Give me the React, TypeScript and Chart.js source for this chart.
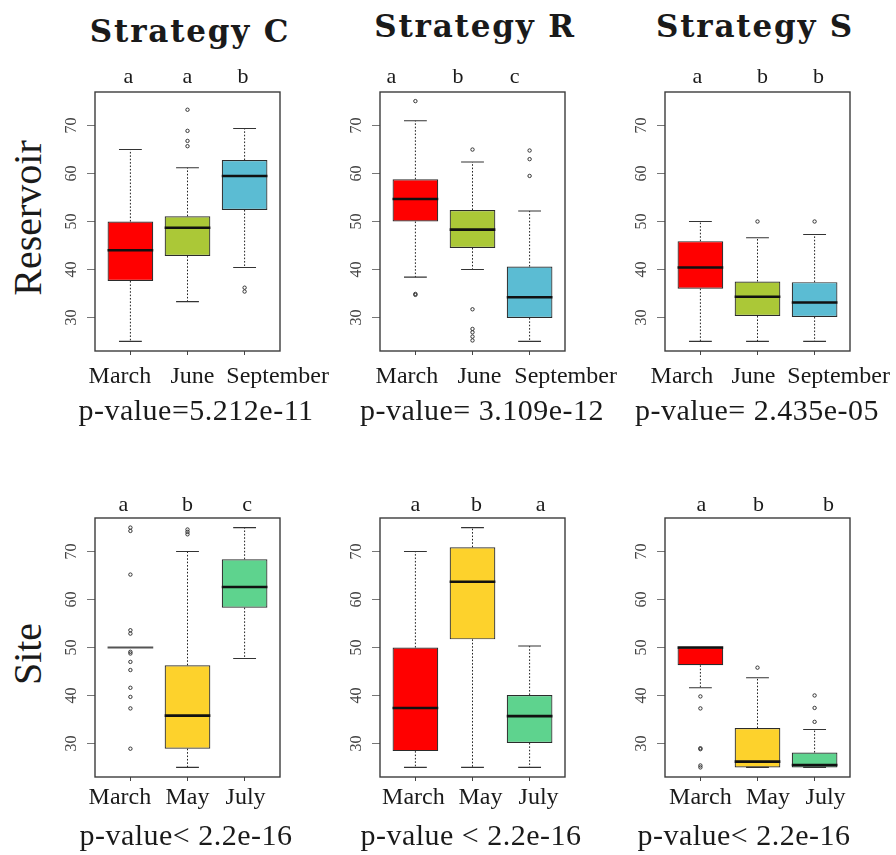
import React, { useEffect, useRef } from "react";
import { Chart, registerables } from "chart.js";

Chart.register(...registerables);

// ---------- data ----------
const reservoirMonths = ["March", "June", "September"];
const siteMonths = ["March", "May", "July"];
const reservoirColors = ["#FF0000", "#ABC837", "#5BBCD3"];
const siteColors = ["#FF0000", "#FDD22C", "#5ED38E"];
const yTicks = [30, 40, 50, 60, 70];
const xPositions = [1, 2, 3];

// five-number summaries: [lower whisker, Q1, median, Q3, upper whisker]
const resC_stats = [[25, 37.6, 44, 50, 65], [33.3, 42.8, 48.7, 51.1, 61.2], [40.4, 52.4, 59.5, 62.8, 69.4]];
const resC_out = [[], [73.3, 68.9, 66.8, 65.7], [36.2, 35.4]];
const resC_letters = ["a", "a", "b"];

const resR_stats = [[38.4, 50, 54.7, 58.8, 71], [40, 44.5, 48.3, 52.4, 62.4], [25, 29.9, 34.2, 40.6, 52.2]];
const resR_out = [[75.1, 34.9, 34.7], [65, 31.7, 27.6, 26.9, 26.0, 25.2], [64.8, 63, 59.5]];
const resR_letters = ["a", "b", "c"];

const resS_stats = [[25, 36, 40.4, 45.9, 50], [25, 30.3, 34.3, 37.5, 46.6], [25, 30.1, 33.1, 37.35, 47.3]];
const resS_out = [[], [50], [50]];
const resS_letters = ["a", "b", "b"];

const siteC_stats = [[50, 50, 50, 50, 50], [25, 28.9, 35.8, 46.3, 70], [47.7, 58.3, 62.6, 68.4, 75]];
const siteC_out = [[75, 74.3, 65.2, 53.6, 52.9, 49.1, 48.75, 47.0, 45.3, 41.6, 39.7, 37.3, 28.9], [74.6, 74.1, 73.6], []];
const siteC_letters = ["a", "b", "c"];

const siteR_stats = [[25, 28.4, 37.4, 50, 70], [25, 51.7, 63.7, 70.9, 75], [25, 30.1, 35.7, 40.1, 50.3]];
const siteR_out = [[], [], []];
const siteR_letters = ["a", "b", "a"];

const siteS_stats = [[41.6, 46.3, 50, 50, 50], [25, 25, 26.2, 33.2, 43.7], [25, 25, 25.5, 28.1, 32.9]];
const siteS_out = [[39.8, 37.3, 29.0, 28.8, 25.4, 25], [45.8], [40, 37.4, 34.5]];
const siteS_letters = ["a", "b", "b"];

const strategyTitles = ["Strategy C", "Strategy R", "Strategy S"];
const rowTitles = ["Reservoir", "Site"];
const reservoirPvalues = ["p-value=5.212e-11", "p-value= 3.109e-12", "p-value= 2.435e-05"];
const sitePvalues = ["p-value< 2.2e-16", "p-value < 2.2e-16", "p-value< 2.2e-16"];

// ---------- layout ----------
const PLOT_W = 185;
const PLOT_H = 259;
const AXIS_W = 50;
const TOP_PAD = 45;
const RIGHT_PAD = 60;
const X_AXIS_H = 46;
const CANVAS_W = AXIS_W + PLOT_W + RIGHT_PAD;
const CANVAS_H = TOP_PAD + PLOT_H + X_AXIS_H;
const SERIF = '"Liberation Serif", "Times New Roman", serif';

type PanelProps = {
  plotLeft: number;
  plotTop: number;
  months: string[];
  colors: string[];
  stats: number[][];
  outs: number[][];
  letters: string[];
  letterDx: number[];
  labelDx: number[];
  letterRise: number;
  labelDrop: number;
};

function Panel(p: PanelProps) {
  const ref = useRef<HTMLCanvasElement | null>(null);
  useEffect(() => {
    const canvas = ref.current;
    if (!canvas) return;

    const extras = {
      id: "boxExtras",
      afterDatasetsDraw(chart: any) {
        const ctx = chart.ctx;
        const xs = chart.scales.x;
        const ys = chart.scales.y;
        const half = xs.getPixelForValue(1.4) - xs.getPixelForValue(1);
        ctx.save();
        p.stats.forEach((s, i) => {
          const cx = xs.getPixelForValue(xPositions[i]);
          const [lo, q1, med, q3, hi] = s;
          const yLo = ys.getPixelForValue(lo);
          const yQ1 = ys.getPixelForValue(q1);
          const yMed = ys.getPixelForValue(med);
          const yQ3 = ys.getPixelForValue(q3);
          const yHi = ys.getPixelForValue(hi);
          const collapsed = lo === hi;
          // dotted whiskers
          ctx.strokeStyle = "#222";
          ctx.lineWidth = 1;
          ctx.setLineDash([1.6, 1.8]);
          ctx.beginPath();
          if (hi > q3) {
            ctx.moveTo(cx, yQ3);
            ctx.lineTo(cx, yHi);
          }
          if (lo < q1) {
            ctx.moveTo(cx, yQ1);
            ctx.lineTo(cx, yLo);
          }
          ctx.stroke();
          ctx.setLineDash([]);
          // staples
          if (!collapsed) {
            ctx.strokeStyle = "#333";
            ctx.lineWidth = 1.1;
            ctx.beginPath();
            ctx.moveTo(cx - half / 2, yHi);
            ctx.lineTo(cx + half / 2, yHi);
            ctx.moveTo(cx - half / 2, yLo);
            ctx.lineTo(cx + half / 2, yLo);
            ctx.stroke();
          }
          // median
          ctx.strokeStyle = collapsed ? "#555" : "#111";
          ctx.lineWidth = collapsed ? 2 : 2.6;
          ctx.beginPath();
          ctx.moveTo(cx - half, yMed);
          ctx.lineTo(cx + half, yMed);
          ctx.stroke();
        });
        ctx.restore();
      },
      afterDraw(chart: any) {
        const ctx = chart.ctx;
        const ca = chart.chartArea;
        const xs = chart.scales.x;
        ctx.save();
        ctx.strokeStyle = "#3c3c3c";
        ctx.lineWidth = 1.4;
        ctx.strokeRect(ca.left, ca.top, ca.right - ca.left, ca.bottom - ca.top);
        ctx.fillStyle = "#1a1a1a";
        ctx.textAlign = "center";
        ctx.textBaseline = "alphabetic";
        ctx.font = `22px ${SERIF}`;
        p.letters.forEach((l, i) => {
          ctx.fillText(l, xs.getPixelForValue(xPositions[i]) + p.letterDx[i], ca.top - p.letterRise);
        });
        ctx.font = `24px ${SERIF}`;
        p.months.forEach((m, i) => {
          ctx.fillText(m, xs.getPixelForValue(xPositions[i]) + p.labelDx[i], ca.bottom + p.labelDrop);
        });
        ctx.restore();
      },
    };

    const outlierPoints: { x: number; y: number }[] = [];
    p.outs.forEach((arr, i) => arr.forEach((v) => outlierPoints.push({ x: xPositions[i], y: v })));

    const chart = new Chart(canvas, {
      type: "bar",
      data: {
        datasets: [
          {
            type: "bar",
            data: p.stats.map((s, i) => ({ x: xPositions[i], y: [s[1], s[3]] })) as any,
            backgroundColor: p.colors,
            borderColor: "#2b2b2b",
            borderWidth: 1.2,
            borderSkipped: false,
            barPercentage: 0.8,
            categoryPercentage: 1,
          } as any,
          {
            type: "scatter",
            data: outlierPoints,
            pointRadius: 1.7,
            pointBorderWidth: 1,
            pointBorderColor: "#333",
            pointBackgroundColor: "rgba(0,0,0,0)",
          } as any,
        ],
      },
      options: {
        responsive: false,
        maintainAspectRatio: false,
        animation: false,
        devicePixelRatio: 1,
        events: [],
        layout: { autoPadding: false, padding: { top: TOP_PAD, right: RIGHT_PAD, left: 0, bottom: 0 } },
        plugins: { legend: { display: false }, tooltip: { enabled: false }, title: { display: false } },
        scales: {
          x: {
            type: "linear",
            min: 0.38,
            max: 3.62,
            offset: false,
            afterBuildTicks: (s: any) => {
              s.ticks = xPositions.map((v) => ({ value: v }));
            },
            afterFit: (s: any) => {
              s.height = X_AXIS_H;
            },
            grid: { drawOnChartArea: false, drawTicks: true, tickLength: 4, color: "#444", offset: false },
            border: { display: false },
            ticks: { display: false },
          },
          y: {
            type: "linear",
            min: 23,
            max: 77,
            beginAtZero: false,
            afterBuildTicks: (s: any) => {
              s.ticks = yTicks.map((v) => ({ value: v }));
            },
            afterFit: (s: any) => {
              s.width = AXIS_W;
            },
            grid: { drawOnChartArea: false, drawTicks: true, tickLength: 8, color: "#777" },
            border: { display: false },
            ticks: {
              minRotation: 90,
              maxRotation: 90,
              crossAlign: "center",
              padding: 7,
              color: "#444",
              font: { family: SERIF, size: 16 },
            },
          },
        },
      } as any,
      plugins: [extras],
    });
    return () => chart.destroy();
  }, []);

  return (
    <canvas
      ref={ref}
      width={CANVAS_W}
      height={CANVAS_H}
      style={{ position: "absolute", left: p.plotLeft - AXIS_W, top: p.plotTop - TOP_PAD, width: CANVAS_W, height: CANVAS_H }}
    />
  );
}

function Text(props: { x: number; baseline: number; size: number; bold?: boolean; family?: string; spacing?: number; children: string }) {
  const fam = props.family || SERIF;
  const asc = props.family ? 0.846 : 0.8375;
  return (
    <div
      style={{
        position: "absolute",
        left: props.x,
        top: props.baseline - asc * props.size,
        transform: "translateX(-50%)",
        fontFamily: fam,
        fontSize: props.size,
        fontWeight: props.bold ? 700 : 400,
        letterSpacing: props.spacing || 0,
        lineHeight: 1,
        whiteSpace: "nowrap",
        color: "#1a1a1a",
      }}
    >
      {props.children}
    </div>
  );
}

function RowLabel(props: { x: number; y: number; children: string }) {
  return (
    <div
      style={{
        position: "absolute",
        left: props.x,
        top: props.y,
        transform: "translate(-50%, -50%) rotate(-90deg)",
        fontFamily: SERIF,
        fontSize: 40,
        lineHeight: 1,
        whiteSpace: "nowrap",
        color: "#1a1a1a",
      }}
    >
      {props.children}
    </div>
  );
}

const colLefts = [95, 380, 665];
const rowTops = [92, 518];
const TITLE_FONT = '"DejaVu Serif", serif';

export default function App() {
  return (
    <div style={{ position: "absolute", left: 0, top: 0, width: 896, height: 855, overflow: "hidden", background: "#fff" }}>
      <Text x={190} baseline={42} size={31} bold family={TITLE_FONT} spacing={1.8}>{strategyTitles[0]}</Text>
      <Text x={475} baseline={37} size={31} bold family={TITLE_FONT} spacing={1.8}>{strategyTitles[1]}</Text>
      <Text x={755} baseline={37} size={31} bold family={TITLE_FONT} spacing={1.8}>{strategyTitles[2]}</Text>

      <RowLabel x={28} y={218}>{rowTitles[0]}</RowLabel>
      <RowLabel x={28} y={654}>{rowTitles[1]}</RowLabel>

      <Panel plotLeft={colLefts[0]} plotTop={rowTops[0]} months={reservoirMonths} colors={reservoirColors} stats={resC_stats} outs={resC_out} letters={resC_letters} letterDx={[-2, 0, -1.5]} labelDx={[-10.5, 5, 33]} letterRise={9} labelDrop={32} />
      <Panel plotLeft={colLefts[1]} plotTop={rowTops[0]} months={reservoirMonths} colors={reservoirColors} stats={resR_stats} outs={resR_out} letters={resR_letters} letterDx={[-24, -14.5, -15]} labelDx={[-8.5, 7, 36]} letterRise={9} labelDrop={32} />
      <Panel plotLeft={colLefts[2]} plotTop={rowTops[0]} months={reservoirMonths} colors={reservoirColors} stats={resS_stats} outs={resS_out} letters={resS_letters} letterDx={[-3, 5, 4]} labelDx={[-18.5, -4, 24]} letterRise={9} labelDrop={32} />

      <Panel plotLeft={colLefts[0]} plotTop={rowTops[1]} months={siteMonths} colors={siteColors} stats={siteC_stats} outs={siteC_out} letters={siteC_letters} letterDx={[-7, 0, 2.5]} labelDx={[-10.5, 0, 1]} letterRise={7} labelDrop={27} />
      <Panel plotLeft={colLefts[1]} plotTop={rowTops[1]} months={siteMonths} colors={siteColors} stats={siteR_stats} outs={siteR_out} letters={siteR_letters} letterDx={[0, 4, 11]} labelDx={[-2, 8, 9]} letterRise={7} labelDrop={27} />
      <Panel plotLeft={colLefts[2]} plotTop={rowTops[1]} months={siteMonths} colors={siteColors} stats={siteS_stats} outs={siteS_out} letters={siteS_letters} letterDx={[1, 1, 14]} labelDx={[0, 10.5, 11]} letterRise={7} labelDrop={27} />

      <Text x={196} baseline={420} size={30} spacing={0.5}>{reservoirPvalues[0]}</Text>
      <Text x={482} baseline={420} size={30} spacing={0.5}>{reservoirPvalues[1]}</Text>
      <Text x={757} baseline={420} size={30} spacing={0.5}>{reservoirPvalues[2]}</Text>
      <Text x={186} baseline={845} size={30} spacing={0.5}>{sitePvalues[0]}</Text>
      <Text x={471} baseline={845} size={30} spacing={0.5}>{sitePvalues[1]}</Text>
      <Text x={744} baseline={845} size={30} spacing={0.5}>{sitePvalues[2]}</Text>
    </div>
  );
}
